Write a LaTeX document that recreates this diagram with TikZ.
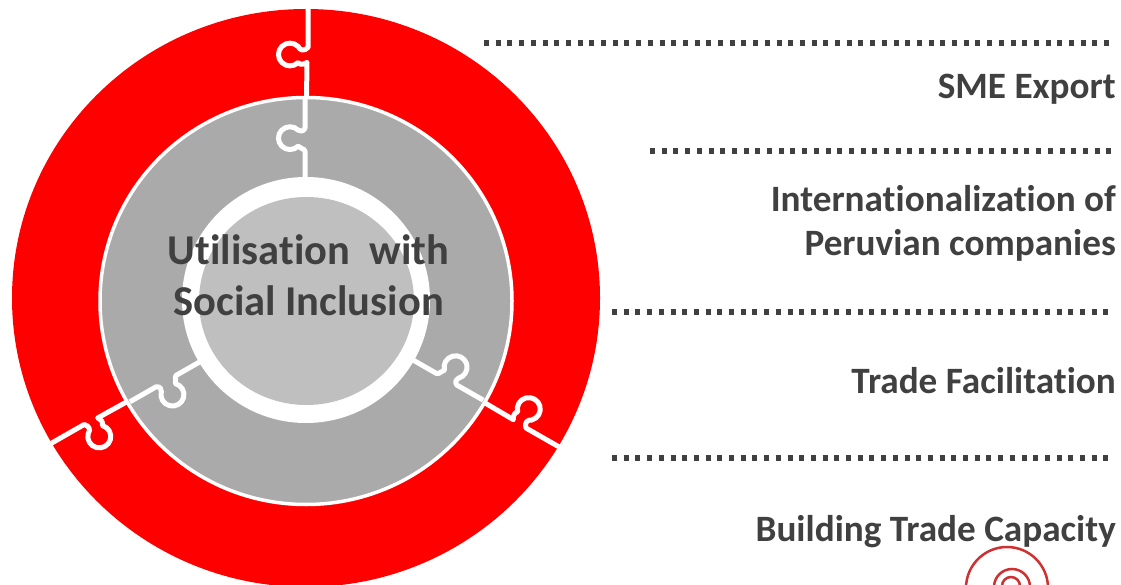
\documentclass[tikz,border=0pt]{standalone}
\usepackage{fontspec}
\setmainfont[RawFeature={-liga}]{Carlito}
\definecolor{ringred}{RGB}{255,0,0}
\definecolor{ringgray}{RGB}{170,170,170}
\definecolor{coregray}{RGB}{191,191,191}
\definecolor{inkgray}{RGB}{64,64,64}
\definecolor{swirl}{RGB}{208,48,48}
\tikzset{
  seam/.style={draw=white,line width=5pt,line join=round},
  ringedge/.style={draw=white,line width=3.5pt},
  rule/.style={draw=inkgray,line width=6.5pt,dash pattern=on 5pt off 6.7pt},
  label/.style={text=inkgray,font=\fontsize{37.2}{44}\selectfont\bfseries,align=right,anchor=east,inner sep=0pt},
  centerlabel/.style={text=inkgray,font=\fontsize{42.5}{51}\selectfont\bfseries,align=center,inner sep=0pt},
  swirlline/.style={draw=swirl,line width=2.5pt}
}
\begin{document}
\begin{tikzpicture}[x=1pt,y=-1pt]
\useasboundingbox (0,0) rectangle (1121,585);
\clip (0,0) rectangle (1121,585);
% target fragment
\draw[swirlline] (1007,588) circle[radius=41pt];
\draw[swirlline] (1012,587) circle[radius=18pt];
\draw[swirlline] (1011,586) circle[radius=9pt];
% rings
\fill[ringred] (306,298) ellipse[x radius=294pt,y radius=289pt];
\begin{scope}[shift={(306,300)},yscale=.99]
\foreach \a in {0,-120,-240}{
  \begin{scope}[rotate=\a]
    \draw[seam] (2,-297) -- (2,-255) .. controls (-2,-251) and (-6,-252) .. (-7.9,-256.1)
      arc[start angle=45,end angle=315,radius=11.5pt]
      .. controls (-6,-237) and (-2,-238) .. (1,-240) -- (0.5,-203);
  \end{scope}
}
\end{scope}
\filldraw[fill=ringgray,ringedge] (306,301) ellipse[x radius=206pt,y radius=203.5pt];
\begin{scope}[shift={(306,300)},yscale=.99]
\foreach \a in {0,-120,-240}{
  \begin{scope}[rotate=\a]
    \draw[seam] (-1,-204) -- (-1,-173.5) .. controls (-3,-169.5) and (-6,-170.5) .. (-7.9,-171.6)
      arc[start angle=45,end angle=315,radius=11.5pt]
      .. controls (-6,-152.5) and (-2,-153.5) .. (-1,-150.5) -- (-1,-118);
  \end{scope}
}
\end{scope}
\fill[white] (306,300) ellipse[x radius=124pt,y radius=123pt];
\fill[coregray] (306.5,301) ellipse[x radius=107.5pt,y radius=104pt];
% centre text
\node[centerlabel] (core) at (308.5,275) {Utilisation\ \ with\\Social Inclusion};
% dotted rules
\coordinate (r1a) at (484,43);  \coordinate (r1b) at (1114,43);
\coordinate (r2a) at (650,151); \coordinate (r2b) at (1114,151);
\coordinate (r3a) at (612,312); \coordinate (r3b) at (1114,312);
\coordinate (r4a) at (612,458); \coordinate (r4b) at (1114,458);
\draw[rule] (r1a) -- (r1b);
\draw[rule] (r2a) -- (r2b);
\draw[rule] (r3a) -- (r3b);
\draw[rule] (r4a) -- (r4b);
% labels
\node[label] (sme) at (1116,89) {SME Export};
\node[label] (intl) at (1116,223) {Internationalization of\\Peruvian companies};
\node[label] (trade) at (1116,381) {Trade Facilitation};
\node[label] (build) at (1116,531.5) {Building Trade Capacity};
\end{tikzpicture}
\end{document}
